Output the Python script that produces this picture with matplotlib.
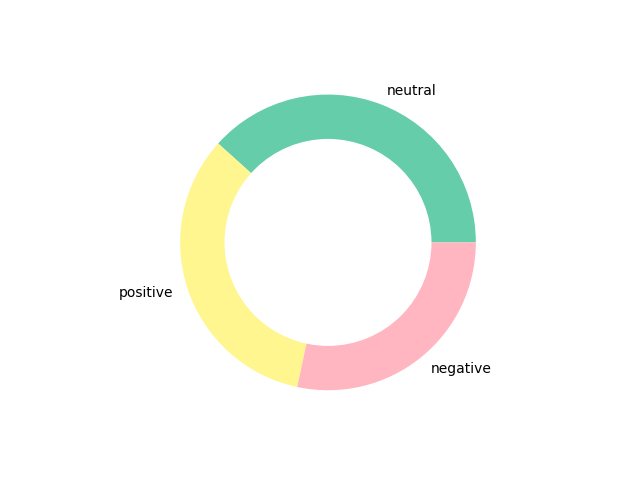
import matplotlib
matplotlib.use("Agg")
import matplotlib.pyplot as plt

labels = ["neutral", "positive", "negative"]
counts = [115, 100, 85]
colors = ["#66CDAA", "#FFF68F", "#FFB6C1"]

fig, ax = plt.subplots(figsize=(6.4, 4.8), dpi=100)
ax.pie(counts, labels=labels, colors=colors)
centre = plt.Circle((0, 0), 0.70, fc="white")
ax.add_artist(centre)

fig.savefig("out.png")
plt.close(fig)
